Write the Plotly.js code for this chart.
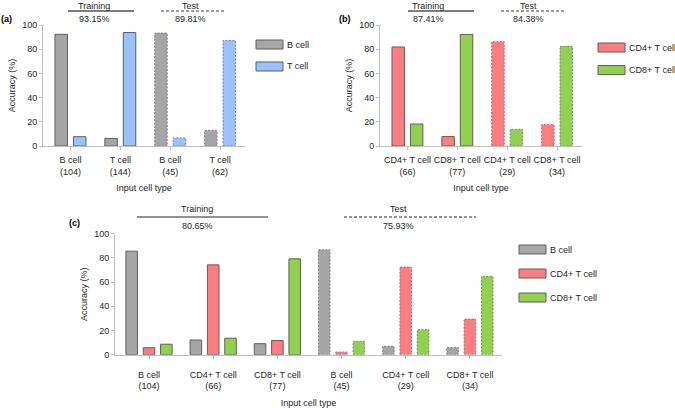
<!DOCTYPE html>
<html>
<head>
<meta charset="utf-8">
<script src="https://cdn.plot.ly/plotly-3.0.1.min.js"></script>
<style>html,body{margin:0;padding:0;background:#fff;}#chart{width:675px;height:408px;}</style>
</head>
<body>
<div id="chart"></div>
<script>
// ---------- data ----------
const catsA = ["B cell<br>(104)", "T cell<br>(144)", "B cell<br>(45)", "T cell<br>(62)"];
const aBcell = [92.31, 6.25, 93.33, 12.90];
const aTcell = [7.69, 93.75, 6.67, 87.10];
const testA = [false, false, true, true];

const catsB = ["CD4+ T cell<br>(66)", "CD8+ T cell<br>(77)", "CD4+ T cell<br>(29)", "CD8+ T cell<br>(34)"];
const bCD4 = [81.82, 7.79, 86.21, 17.65];
const bCD8 = [18.18, 92.21, 13.79, 82.35];
const testB = [false, false, true, true];

const catsC = ["B cell<br>(104)", "CD4+ T cell<br>(66)", "CD8+ T cell<br>(77)", "B cell<br>(45)", "CD4+ T cell<br>(29)", "CD8+ T cell<br>(34)"];
const cB = [85.58, 12.12, 9.09, 86.67, 6.90, 5.88];
const cCD4 = [5.77, 74.24, 11.69, 2.22, 72.41, 29.41];
const cCD8 = [8.65, 13.64, 79.22, 11.11, 20.69, 64.71];
const testC = [false, false, false, true, true, true];

const accA = ["93.15%", "89.81%"];
const accB = ["87.41%", "84.38%"];
const accC = ["80.65%", "75.93%"];
const splitNames = ["Training", "Test"];
const namesA = ["B cell", "T cell"];
const namesB = ["CD4+ T cell", "CD8+ T cell"];
const namesC = ["B cell", "CD4+ T cell", "CD8+ T cell"];

// ---------- style ----------
const W = 675, H = 408;
const GRAY = "#a6a6a6", BLUE = "#99c2ff", RED = "#ff7c80", GREEN = "#92d050";
const OUT = "#5f5f5f", DOT = "#808080", AXC = "#bfbfbf", TXT = "#262626";
const FONT = "Liberation Sans, Arial, sans-serif";
const FS = 9;
const px = v => v / W;
const py = v => 1 - v / H;

const traces = [];
const shapes = [];
const annotations = [];

function addPanel(ax, cats, series, names, colors, isTest, width, offsets) {
  const xa = ax === 1 ? "x" : "x" + ax;
  const ya = ax === 1 ? "y" : "y" + ax;
  series.forEach((vals, k) => {
    traces.push({
      type: "bar", x: cats, y: vals, name: names[k], xaxis: xa, yaxis: ya,
      width: width, offset: offsets[k], showlegend: false, hoverinfo: "x+y",
      marker: {
        color: colors[k],
        line: { color: OUT, width: isTest.map(t => t ? 0 : 1) }
      }
    });
    vals.forEach((v, i) => {
      if (isTest[i]) {
        shapes.push({
          type: "rect", xref: xa, yref: ya, layer: "above",
          x0: i + offsets[k], x1: i + offsets[k] + width, y0: 0, y1: v,
          line: { color: DOT, width: 1, dash: "2px,1.5px" }, fillcolor: "rgba(0,0,0,0)"
        });
      }
    });
  });
}

addPanel(1, catsA, [aBcell, aTcell], namesA, [GRAY, BLUE], testA, 0.25, [-0.31, 0.06]);
addPanel(2, catsB, [bCD4, bCD8], namesB, [RED, GREEN], testB, 0.25, [-0.31, 0.06]);
addPanel(3, catsC, [cB, cCD4, cCD8], namesC, [GRAY, RED, GREEN], testC, 0.18, [-0.36, -0.09, 0.18]);

// split headers (Training / Test)
function header(xc, x0, x1, yText, yLine, yAcc, label, acc, dashed, lineColor, lw) {
  annotations.push({ xref: "paper", yref: "paper", x: px(xc), y: py(yText), text: label, showarrow: false,
    font: { family: FONT, size: FS, color: TXT }, xanchor: "center", yanchor: "middle" });
  annotations.push({ xref: "paper", yref: "paper", x: px(xc), y: py(yAcc), text: acc, showarrow: false,
    font: { family: FONT, size: FS, color: TXT }, xanchor: "center", yanchor: "middle" });
  shapes.push({ type: "line", xref: "paper", yref: "paper", x0: px(x0), x1: px(x1), y0: py(yLine), y1: py(yLine),
    line: { color: lineColor, width: lw, dash: dashed ? "3px,2px" : "solid" } });
}
header(94, 68, 134, 6, 11, 19, splitNames[0], accA[0], false, "#7f7f7f", 2);
header(190, 161, 226, 6, 11, 19, splitNames[1], accA[1], true, "#7f7f7f", 1.3);
header(428, 408, 474, 6, 11, 19, splitNames[0], accB[0], false, "#7f7f7f", 2);
header(528, 501, 566, 6, 11, 19, splitNames[1], accB[1], true, "#7f7f7f", 1.3);
header(197, 137, 268, 209, 217, 226, splitNames[0], accC[0], false, "#262626", 1);
header(398, 344, 476, 209, 217, 226, splitNames[1], accC[1], true, "#262626", 1);

// legends
function legend(x0, ys, names, colors) {
  ys.forEach((y, k) => {
    shapes.push({ type: "rect", xref: "paper", yref: "paper", x0: px(x0), x1: px(x0 + 27), y0: py(y + 4.5), y1: py(y - 4.5),
      fillcolor: colors[k], line: { color: OUT, width: 1 } });
    annotations.push({ xref: "paper", yref: "paper", x: px(x0 + 28.5), y: py(y), text: names[k], showarrow: false,
      xanchor: "left", yanchor: "middle", font: { family: FONT, size: FS, color: TXT } });
  });
}
legend(256, [44.5, 66.5], namesA, [GRAY, BLUE]);
legend(598, [47.5, 70], namesB, [RED, GREEN]);
legend(519, [249.5, 273.5, 297.5], namesC, [GRAY, RED, GREEN]);

// panel letters
[["(a)", 6, 19], ["(b)", 345, 19], ["(c)", 74, 223]].forEach(p => {
  annotations.push({ xref: "paper", yref: "paper", x: px(p[1]), y: py(p[2]), text: "<b>" + p[0] + "</b>", showarrow: false,
    xanchor: "center", yanchor: "middle", font: { family: FONT, size: FS, color: "#000" } });
});

function xAxis(domain, range, anchor, standoff, titleStandoff) {
  return { domain: domain, range: range, anchor: anchor, type: "category", showline: true, linecolor: AXC, linewidth: 1,
    ticks: "outside", ticklen: 3, tickcolor: AXC, showgrid: false, zeroline: false, tickangle: 0,
    ticklabelstandoff: standoff,
    tickfont: { family: FONT, size: FS, color: TXT },
    title: { text: "Input cell type", font: { family: FONT, size: FS, color: TXT }, standoff: titleStandoff } };
}
function yAxis(domain, anchor) {
  return { domain: domain, range: [0, 100], anchor: anchor, showline: true, linecolor: AXC, linewidth: 1,
    ticks: "outside", ticklen: 3, tickcolor: AXC, showgrid: false, zeroline: false, dtick: 20,
    tickfont: { family: FONT, size: FS, color: TXT },
    title: { text: "Accuracy (%)", font: { family: FONT, size: FS, color: TXT } } };
}

const layout = {
  width: W, height: H, margin: { l: 0, r: 0, t: 0, b: 0 },
  paper_bgcolor: "#fff", plot_bgcolor: "#fff", barmode: "overlay", showlegend: false,
  font: { family: FONT, size: FS, color: TXT },
  xaxis: xAxis([px(43), px(245)], [-0.55, 3.5], "y", 2, 9),
  yaxis: yAxis([py(146), py(25)], "x"),
  xaxis2: xAxis([px(380), px(582)], [-0.55, 3.5], "y2", 2, 9),
  yaxis2: yAxis([py(146), py(25)], "x2"),
  xaxis3: xAxis([px(115), px(502)], [-0.53, 5.5], "y3", 8, 11),
  yaxis3: yAxis([py(354.7), py(233.7)], "x3"),
  shapes: shapes, annotations: annotations
};

Plotly.newPlot("chart", traces, layout, { displayModeBar: false, staticPlot: true });
</script>
</body>
</html>
